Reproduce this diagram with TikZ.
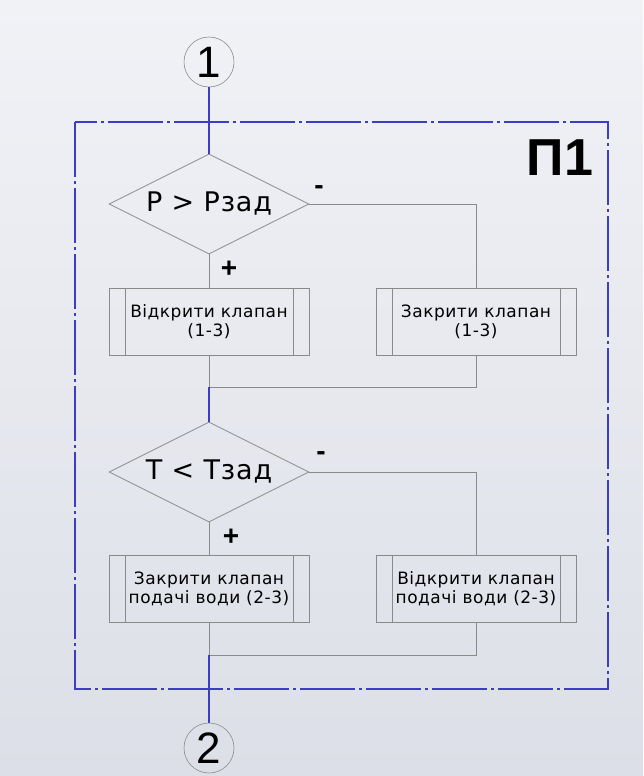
\documentclass[tikz,border=0pt]{standalone}
\usepackage{fontspec}
\setmainfont{DejaVu Sans}
\newfontfamily\arialfont{Liberation Sans}
\usetikzlibrary{positioning,shapes.geometric}
\definecolor{Synii}{HTML}{3C3CC4}
\definecolor{Siryi}{HTML}{8A8A8A}
\definecolor{FonVerkh}{HTML}{F1F2F6}
\definecolor{FonNyz}{HTML}{DCDFE7}

\begin{document}
\begin{tikzpicture}[x=1pt,y=-1pt,
    umova/.style={diamond,draw=Siryi,line width=0.8pt,inner sep=0pt,shape aspect=2,
      minimum width=200pt,minimum height=100pt,
      font=\fontsize{27}{30}\selectfont\addfontfeature{LetterSpace=3}},
    pidprog/.style={rectangle,draw=Siryi,line width=0.8pt,minimum width=200pt,
      minimum height=67pt,align=center,
      font=\fontsize{17}{19}\selectfont\addfontfeature{LetterSpace=3},
      path picture={\draw[Siryi,line width=0.8pt]
        ([xshift=16pt]path picture bounding box.north west) -- ([xshift=16pt]path picture bounding box.south west)
        ([xshift=-16pt]path picture bounding box.north east) -- ([xshift=-16pt]path picture bounding box.south east);}},
    konektor/.style={circle,draw=Siryi,line width=0.6pt,minimum size=50pt,inner sep=0pt,
      font=\arialfont\fontsize{44}{44}\selectfont},
    potik/.style={Siryi,line width=0.9pt},
    magistral/.style={Synii,line width=1.1pt},
    znak/.style={font=\arialfont\bfseries\fontsize{28}{28}\selectfont,inner sep=0pt}]
        \useasboundingbox (0,0) rectangle (643,776);
        \shade[top color=FonVerkh,bottom color=FonNyz] (0,0) rectangle (643,776);
        % рамка процедури
        \draw[Synii,line width=1.4pt,dash pattern=on 55pt off 4pt on 3pt off 4pt] (75,122) rectangle (608,689);
        \node[font=\arialfont\bfseries\fontsize{52}{52}\selectfont,inner sep=0pt] (nazva) at (560,158) {П1};
        % блоки
        \node[konektor] (vkhid) at (209,62) {1};
        \node[umova] (tysk) at (209,204) {Р > Рзад};
        \node[pidprog] (vidkr1) at (209,321.5) {Відкрити клапан\\(1-3)};
        \node[pidprog] (zakr1) at (476,321.5) {Закрити клапан\\(1-3)};
        \coordinate (zlyttia1) at (209,387);
        \node[umova] (temp) at (209,472) {Т < Тзад};
        \node[pidprog] (zakr2) at (209,588.5) {Закрити клапан\\подачі води (2-3)};
        \node[pidprog] (vidkr2) at (476,588.5) {Відкрити клапан\\подачі води (2-3)};
        \coordinate (zlyttia2) at (209,655);
        \node[konektor] (vykhid) at (209,748) {2};
        % знаки
        \node[znak] (plus1) at (229,269) {+};
        \node[znak] (minus1) at (319,190) {-};
        \node[znak] (plus2) at (231,537) {+};
        \node[znak] (minus2) at (321,456) {-};
        % лінії
        \draw[magistral] (vkhid) -- (tysk.north);
        \draw[potik] (tysk.south) -- (vidkr1.north);
        \draw[potik] (tysk.east) -| (zakr1.north);
        \draw[potik] (vidkr1.south) -- (zlyttia1);
        \draw[potik] (zakr1.south) |- (zlyttia1);
        \draw[magistral] (zlyttia1) -- (temp.north);
        \draw[potik] (temp.south) -- (zakr2.north);
        \draw[potik] (temp.east) -| (vidkr2.north);
        \draw[potik] (zakr2.south) -- (zlyttia2);
        \draw[potik] (vidkr2.south) |- (zlyttia2);
        \draw[magistral] (zlyttia2) -- (vykhid);
      \end{tikzpicture}
\end{document}
